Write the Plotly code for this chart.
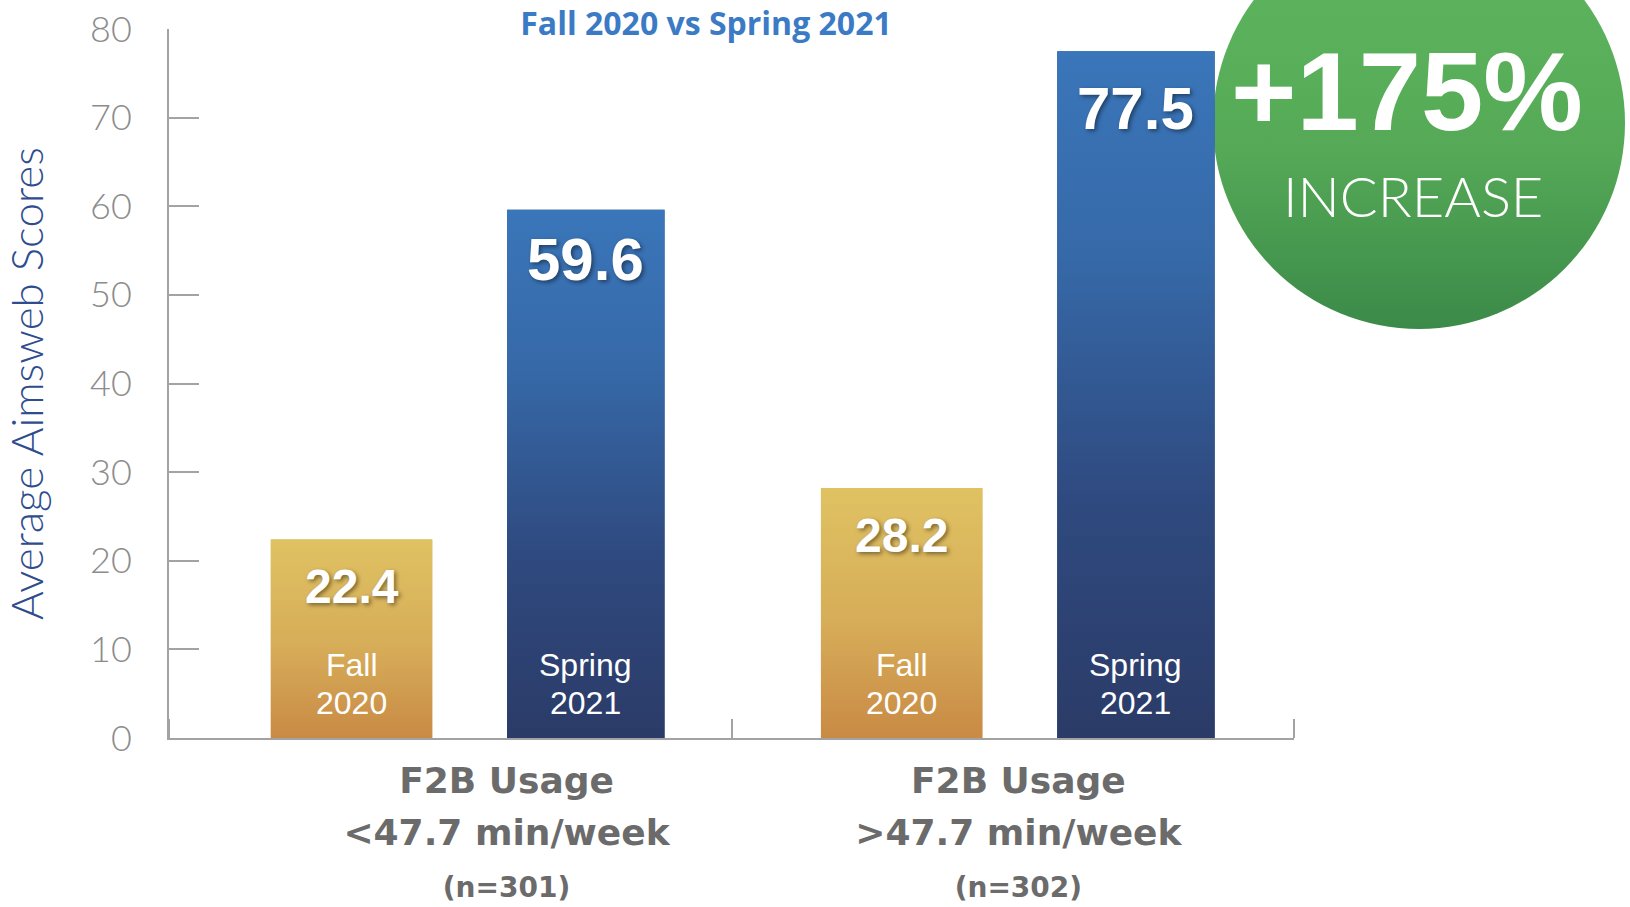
import base64
import plotly.graph_objects as go

# ---------------- data ----------------
group_labels = ["F2B Usage", "F2B Usage"]
usage_ranges = ["&lt;47.7 min/week", "&gt;47.7 min/week"]
sample_sizes = ["(n=301)", "(n=302)"]
fall_2020 = [22.4, 28.2]
spring_2021 = [59.6, 77.5]
season_names = ["Fall", "Spring"]
season_years = ["2020", "2021"]
y_tick_values = [0, 10, 20, 30, 40, 50, 60, 70, 80]
chart_title = "Fall 2020 vs Spring 2021"
y_title = "Average Aimsweb Scores"
badge_value = "+175%"
badge_label = "INCREASE"

# ---------------- style ----------------
W, H = 1630, 907
ML, MR, MT, MB = 169, 336, 29, 169
PW, PH = W - ML - MR, H - MT - MB
AXIS_GREY = "#a3a3a3"
FALL_SCALE = [[0, "#c98a45"], [0.45, "#d6ac58"], [1, "#dfc262"]]
SPRING_SCALE = [[0, "#2b3b67"], [0.35, "#2f4a80"], [0.7, "#3669a8"], [1, "#3a76ba"]]
FALL_MID, SPRING_MID = "#d6ac58", "#32558f"
group_shift = [0.011, -0.011]
bar_styles = [
    dict(vals=fall_2020, off=-0.33, w=0.287, scale=FALL_SCALE, mid=FALL_MID,
         size=48, shifts=[-47, -47], name=season_names[0], year=season_years[0]),
    dict(vals=spring_2021, off=0.09, w=0.28, scale=SPRING_SCALE, mid=SPRING_MID,
         size=60, shifts=[-50, -57], name=season_names[1], year=season_years[1]),
]
label_positions_shift = [0.1, 0.01]

fig = go.Figure()
positions = list(range(len(group_labels)))
annotations = []
for st in bar_styles:
    fig.add_trace(go.Bar(x=[p + s for p, s in zip(positions, group_shift)], y=st["vals"],
                         offset=st["off"], width=st["w"],
                         marker=dict(color=st["mid"], line=dict(width=0)),
                         name=st["name"], showlegend=False, hoverinfo="skip"))
    for i, v in zip(positions, st["vals"]):
        x0 = i + group_shift[i] + st["off"]
        x1 = x0 + st["w"]
        fig.add_trace(go.Scatter(
            x=[x0, x1, x1, x0, x0], y=[0, 0, v, v, 0], mode="lines",
            line=dict(width=0), fill="toself",
            fillgradient=dict(type="vertical", colorscale=st["scale"], start=0, stop=v),
            showlegend=False, hoverinfo="skip"))
        xc = (x0 + x1) / 2
        annotations.append(dict(
            x=xc, y=v, xref="x", yref="y", text=f"<b>{v}</b>", showarrow=False,
            yshift=st["shifts"][i], yanchor="middle",
            font=dict(family="Liberation Sans, Arial, sans-serif", size=st["size"], color="white",
                      shadow="2px 2px 4px rgba(0,0,0,0.45)")))
        annotations.append(dict(
            x=xc, y=0, xref="x", yref="y", text=st["name"], showarrow=False,
            yshift=73, yanchor="middle",
            font=dict(family="Liberation Sans, Arial, sans-serif", size=32, color="white")))
        annotations.append(dict(
            x=xc, y=0, xref="x", yref="y", text=st["year"], showarrow=False,
            yshift=35, yanchor="middle",
            font=dict(family="Liberation Sans, Arial, sans-serif", size=32, color="white")))

# badge circle (decorative image with gradient)
svg = ('<svg xmlns="http://www.w3.org/2000/svg" width="416" height="416" viewBox="0 0 416 416">'
       '<defs><linearGradient id="g" x1="0" y1="0" x2="0" y2="1">'
       '<stop offset="0" stop-color="#5fb75f"/><stop offset="0.55" stop-color="#56aa57"/>'
       '<stop offset="1" stop-color="#3b8a49"/></linearGradient></defs>'
       '<circle cx="208" cy="208" r="206" fill="url(#g)"/></svg>')
svg_uri = "data:image/svg+xml;base64," + base64.b64encode(svg.encode()).decode()


def px_x(p):
    return (p - ML) / PW


def px_y(p):
    return ((H - MB) - p) / PH


annotations.append(dict(
    x=px_x(1407), y=px_y(92), xref="paper", yref="paper", text="<b>" + badge_value + "</b>",
    showarrow=False, xanchor="center", yanchor="middle",
    font=dict(family="Liberation Sans Narrow, Liberation Sans, sans-serif", size=112, color="white")))
annotations.append(dict(
    x=px_x(1413), y=px_y(196), xref="paper", yref="paper", text=badge_label,
    showarrow=False, xanchor="center", yanchor="middle",
    font=dict(family="Lato, sans-serif", size=56, color="white", weight=300)))

tick_text = [f"<span style='font-size:36px'>{g}</span><br>"
             f"<span style='font-size:36px'>{u}</span><br>"
             f"<span style='font-size:28px'>{n}</span>"
             for g, u, n in zip(group_labels, usage_ranges, sample_sizes)]

fig.update_layout(
    width=W, height=H,
    margin=dict(l=ML, r=MR, t=MT, b=MB, autoexpand=False),
    paper_bgcolor="white", plot_bgcolor="white",
    barmode="overlay",
    showlegend=False,
    font=dict(family="Lato, sans-serif"),
    title=dict(text="<b>" + chart_title + "</b>", x=706 / W, xref="container", xanchor="center",
               y=1 - 24 / H, yref="container", yanchor="middle",
               font=dict(family="Open Sans, sans-serif", size=32, color="#3b7bc6")),
    xaxis=dict(range=[-0.5, len(group_labels) - 0.5], showgrid=False, zeroline=False,
               showline=True, linecolor=AXIS_GREY, linewidth=2,
               tickmode="array", tickvals=[p + s for p, s in zip(positions, label_positions_shift)],
               ticktext=tick_text, ticks="",
               tickfont=dict(family="DejaVu Sans, sans-serif", size=40, color="#6b6b6b", weight="bold"),
               ticklabelstandoff=5,
               minor=dict(tickmode="array", tickvals=[p - 0.5 for p in positions] + [positions[-1] + 0.5],
                          ticks="inside", ticklen=19, tickwidth=2, tickcolor=AXIS_GREY, showgrid=False),
               fixedrange=True),
    yaxis=dict(range=[0, 80], tickmode="array", tickvals=y_tick_values,
               showgrid=False, zeroline=False, showline=True, linecolor=AXIS_GREY, linewidth=2,
               ticks="inside", ticklen=30, tickwidth=2, tickcolor=AXIS_GREY,
               tickfont=dict(family="Lato, sans-serif", size=36, color="#8c8c8c", weight=300),
               ticklabelstandoff=28,
               title=dict(text=y_title, standoff=36,
                          font=dict(family="Lato, sans-serif", size=44, color="#2f4d8e", weight=300)),
               fixedrange=True),
    images=[dict(source=svg_uri, xref="paper", yref="paper", x=px_x(1211), y=px_y(-85),
                 sizex=416 / PW, sizey=416 / PH, xanchor="left", yanchor="top",
                 sizing="stretch", layer="below")],
    annotations=annotations,
)

fig.write_html("out.html", config={"displayModeBar": False},
               post_script="document.body.style.margin='0';document.body.style.padding='0';")
